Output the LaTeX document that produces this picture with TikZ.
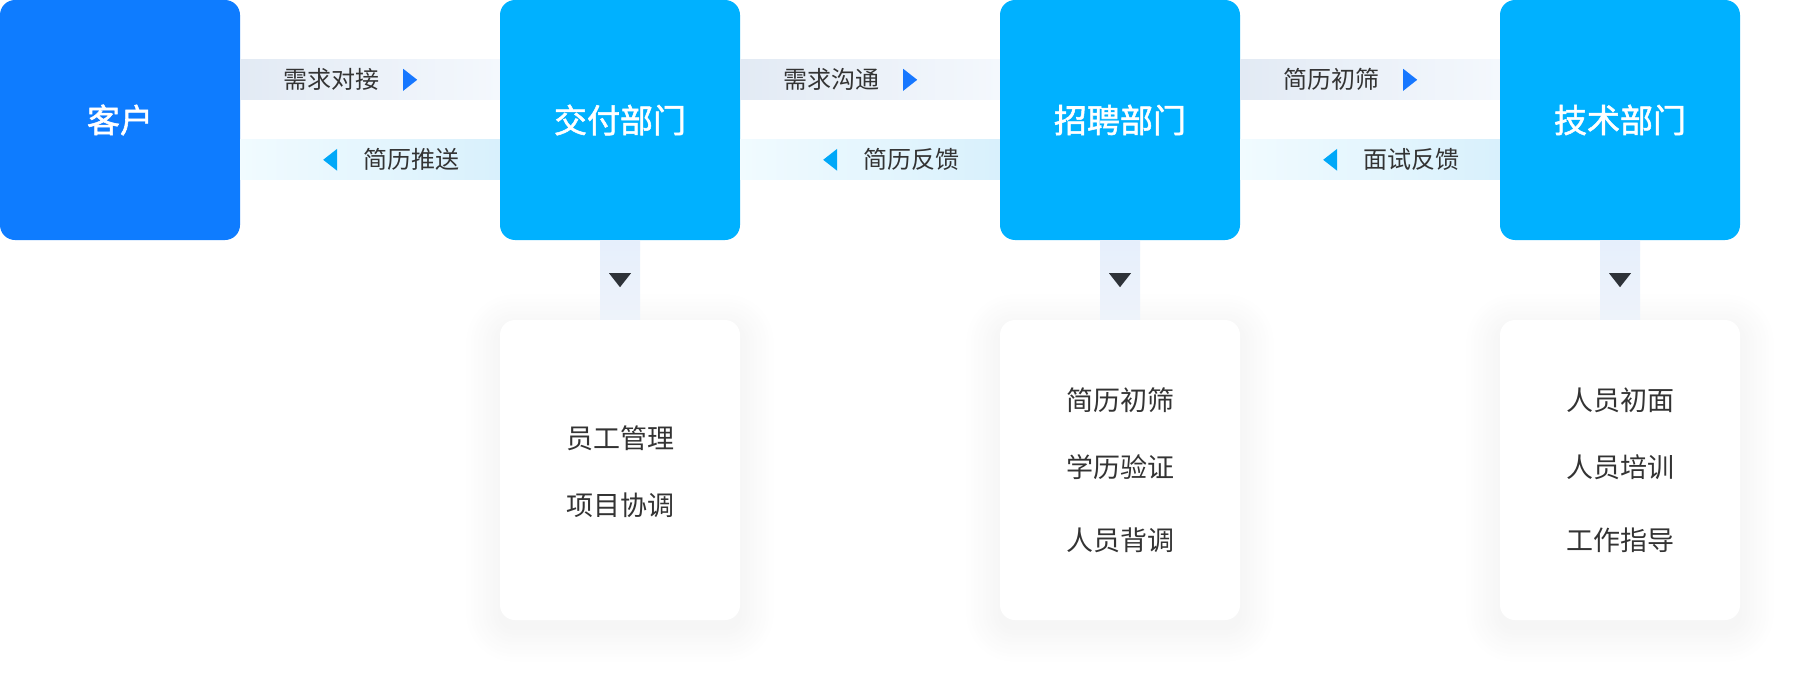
\documentclass[tikz,border=0pt]{standalone}
\usepackage{fontspec}
\setmainfont{Noto Sans CJK SC}
\newfontfamily\titlefont{Noto Sans CJK SC}[FakeBold=1.6]
\usetikzlibrary{calc}
\definecolor{bluedeep}{HTML}{0E7CFF}
\definecolor{cyanbox}{HTML}{00B1FF}
\definecolor{txt}{HTML}{333333}
\definecolor{tri}{HTML}{2E3238}
\definecolor{ub1}{HTML}{E2EAF4}
\definecolor{ub2}{HTML}{F4F8FD}
\definecolor{lb1}{HTML}{F1FBFF}
\definecolor{lb2}{HTML}{D8F0FC}
\definecolor{vb1}{HTML}{E6EFFC}
\definecolor{vb2}{HTML}{EEF3FA}
\definecolor{uparrow}{HTML}{1677FF}
\definecolor{lowarrow}{HTML}{00A8F8}
\newcommand\hband[4]{%
  \shade[left color=ub1,right color=ub2] ($(#1.north east)+(0,60)$) rectangle ($(#2.north west)+(0,100)$);
  \shade[left color=lb1,right color=lb2] ($(#1.north east)+(0,140)$) rectangle ($(#2.north west)+(0,180)$);
  \node[bandlbl, anchor=west] (#1-#2-up) at ($(#1.north east)+(43,80)$) {#3};
  \fill[uparrow] ($(#1.north east)+(163,69)$) -- ++(14,11) -- ++(-14,11) -- cycle;
  \node[bandlbl, anchor=west] (#1-#2-lo) at ($(#1.north east)+(123,160)$) {#4};
  \fill[lowarrow] ($(#1.north east)+(97,149)$) -- ++(-14,11) -- ++(14,11) -- cycle;
}
\newcommand\detshadow[1]{%
  \foreach \i in {22,21,...,1}{%
    \pgfmathsetmacro\sh{3.5*(23-\i)/22}%
    \fill[black!\sh, rounded corners=15+\i*1.5]
      ($(#1.north west)+(-\i*1.5,-\i*1.5+8)$) rectangle ($(#1.south east)+(\i*1.5,\i*1.5+8)$);
  }%
}
\newcommand\vband[2]{%
  \shade[top color=vb1, bottom color=vb2] ($(#1.south)+(-20,0)$) rectangle ($(#2.north)+(20,0)$);
  \fill[tri] ($(#1.south)+(-11,33)$) -- ++(22,0) -- ++(-11,14) -- cycle;
}
\begin{document}
\begin{tikzpicture}[x=1pt,y=-1pt,
  mainbox/.style={minimum width=240pt, minimum height=240pt, inner sep=0pt, rounded corners=15pt, text=white, font=\fontsize{33}{40}\titlefont},
  detbox/.style={minimum width=240pt, minimum height=300pt, inner sep=0pt, rounded corners=15pt, fill=white},
  bandlbl/.style={inner sep=0pt, text=txt, font=\fontsize{24}{28}\selectfont},
  detlbl/.style={inner sep=0pt, text=txt, font=\fontsize{27}{32}\selectfont}]
\useasboundingbox (0,0) rectangle (1808,688);
\fill[white] (0,0) rectangle (1808,688);
\node[mainbox, fill=bluedeep] (kh) at (120,120) {客户};
\node[mainbox, fill=cyanbox] (jf) at (620,120) {交付部门};
\node[mainbox, fill=cyanbox] (zp) at (1120,120) {招聘部门};
\node[mainbox, fill=cyanbox] (js) at (1620,120) {技术部门};
\hband{kh}{jf}{需求对接}{简历推送}
\hband{jf}{zp}{需求沟通}{简历反馈}
\hband{zp}{js}{简历初筛}{面试反馈}
\path (620,470) node[detbox] (jfd) {} (1120,470) node[detbox] (zpd) {} (1620,470) node[detbox] (jsd) {};
\detshadow{jfd}\detshadow{zpd}\detshadow{jsd}
\node[detbox] at (jfd) {};
\node[detbox] at (zpd) {};
\node[detbox] at (jsd) {};
\vband{jf}{jfd}
\vband{zp}{zpd}
\vband{js}{jsd}
\node[detlbl] (jf1) at (620,438) {员工管理};
\node[detlbl] (jf2) at (620,505) {项目协调};
\node[detlbl] (zp1) at (1120,400) {简历初筛};
\node[detlbl] (zp2) at (1120,467) {学历验证};
\node[detlbl] (zp3) at (1120,540) {人员背调};
\node[detlbl] (js1) at (1620,400) {人员初面};
\node[detlbl] (js2) at (1620,467) {人员培训};
\node[detlbl] (js3) at (1620,540) {工作指导};
\end{tikzpicture}
\end{document}
